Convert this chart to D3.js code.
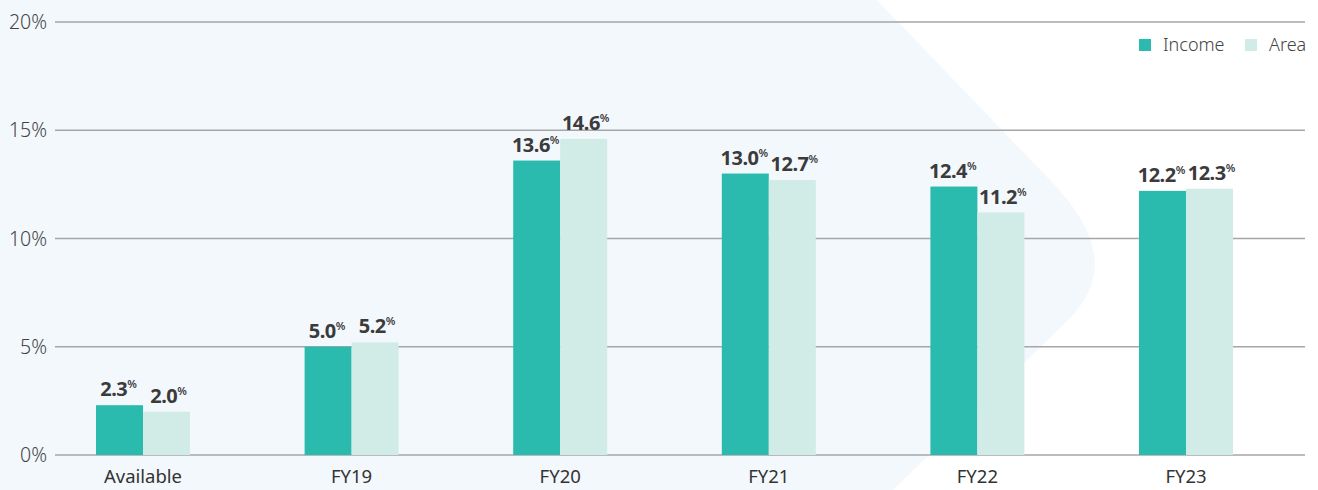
<!DOCTYPE html>
<html><head><meta charset="utf-8">
<script src="https://cdn.jsdelivr.net/npm/d3@7"></script>
<style>html,body{margin:0;padding:0;background:#fff;}svg{display:block;}</style>
</head><body>
<svg id="c" width="1318" height="490"></svg>
<script>
const categories = ["Available","FY19","FY20","FY21","FY22","FY23"];
const seriesNames = ["Income","Area"];
const incomeValues = [2.3,5.0,13.6,13.0,12.4,12.2];
const areaValues = [2.0,5.2,14.6,12.7,11.2,12.3];
const yTicks = [0,5,10,15,20];
const colors = ["#2abbae","#d1ebe7"];

const svg = d3.select("#c");
const font = "'Noto Sans', sans-serif";

// background shape
svg.append("path")
  .attr("d","M0,0 L877,0 L1050,180 C1108,240 1108,285 1060,328 L893,490 L0,490 Z")
  .attr("fill","#f3f8fd");

const x = d3.scaleBand().domain(categories).range([38.7,1290.3]).paddingInner(0).paddingOuter(0);
const y = d3.scaleLinear().domain([0,20]).range([455,22]);
const bw = 47;

// grid
const gx0=55, gx1=1305;
svg.append("g").selectAll("line").data(yTicks).join("line")
  .attr("x1",gx0).attr("x2",gx1)
  .attr("y1",d=>y(d)).attr("y2",d=>y(d))
  .attr("stroke","#a6a6a6").attr("stroke-width",1.3);

svg.append("g").selectAll("text").data(yTicks).join("text")
  .attr("x",47).attr("y",d=>y(d)+7)
  .attr("text-anchor","end").attr("font-family",font).attr("font-size",19.5)
  .attr("font-weight",300).attr("fill","#444").text(d=>d+"%");

const data = categories.map((c,i)=>({c, v:[incomeValues[i],areaValues[i]]}));

const g = svg.append("g");
data.forEach(d=>{
  const cx = x(d.c)+x.bandwidth()/2;
  d.v.forEach((v,j)=>{
    const bx = cx - bw + j*bw;
    g.append("rect").attr("x",bx).attr("y",y(v)).attr("width",bw).attr("height",y(0)-y(v))
      .attr("fill",colors[j]);
    const t = g.append("text").attr("x",bx+bw/2+ (j===0?-1:2)).attr("y",y(v)-9)
      .attr("text-anchor","middle").attr("font-family",font).attr("fill","#3b3b3b");
    t.append("tspan").attr("font-size",20).attr("font-weight",700).attr("letter-spacing",-0.5).text(v.toFixed(1));
    t.append("tspan").attr("font-size",11).attr("font-weight",600).attr("dy",-8).text("%");
  });
  g.append("text").attr("x",cx).attr("y",483).attr("text-anchor","middle")
    .attr("font-family",font).attr("font-size",18.5).attr("font-weight",400).attr("fill","#333").text(d.c);
});

// legend
const lg = svg.append("g");
const legX=[1139,1245];
seriesNames.forEach((n,j)=>{
  lg.append("rect").attr("x",legX[j]).attr("y",39).attr("width",12).attr("height",12).attr("fill",colors[j]);
  lg.append("text").attr("x",legX[j]+24).attr("y",51).attr("font-family",font).attr("font-size",18)
    .attr("font-weight",300).attr("fill","#444").text(n);
});
</script>
</body></html>
